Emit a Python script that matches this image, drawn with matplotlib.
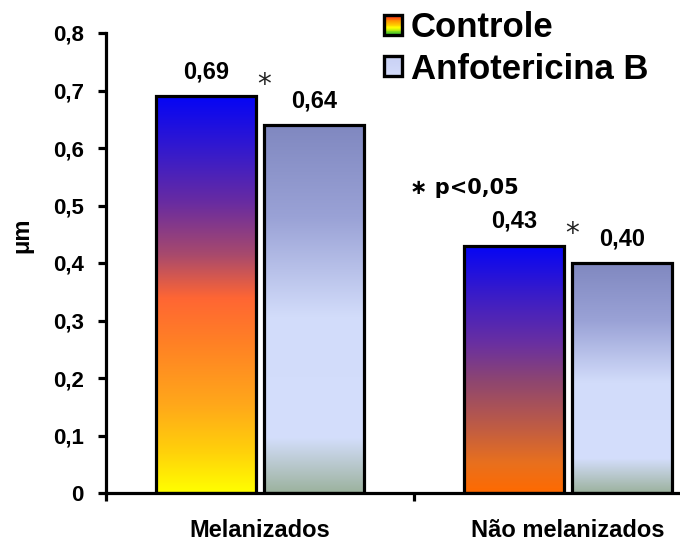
import matplotlib
matplotlib.use("Agg")
import matplotlib.pyplot as plt
import numpy as np
from matplotlib.colors import LinearSegmentedColormap
from matplotlib.patches import Rectangle
from matplotlib.legend_handler import HandlerBase

plt.rcParams['font.family'] = ['Liberation Sans', 'DejaVu Sans']
plt.rcParams['font.weight'] = 'bold'

# ---- data ----
categories = ["Melanizados", "Não melanizados"]
series_names = ["Controle", "Anfotericina B"]
controle = [0.69, 0.43]
anfotericina = [0.64, 0.40]
y_ticks = [0, 0.1, 0.2, 0.3, 0.4, 0.5, 0.6, 0.7, 0.8]
y_tick_labels = ["0", "0,1", "0,2", "0,3", "0,4", "0,5", "0,6", "0,7", "0,8"]
y_label = "μm"
sig_note = "∗ p<0,05"

# ---- gradients (top -> bottom) ----
cmap_ctrl = [
    LinearSegmentedColormap.from_list("c1", [
        (0.0, "#0505F5"), (0.15, "#3A1CC8"), (0.27, "#6A2CA0"), (0.4, "#A84A6C"),
        (0.51, "#FF6633"), (0.62, "#FF8025"), (0.78, "#FFA81A"), (0.9, "#FFD20A"),
        (1.0, "#FFFF00")]),
    LinearSegmentedColormap.from_list("c2", [
        (0.0, "#0505F5"), (0.2, "#3A1CC8"), (0.4, "#6A30A0"), (0.55, "#8E4670"),
        (0.72, "#BB5A48"), (0.88, "#E8701E"), (1.0, "#FF6A00")]),
]
cmap_anfo = LinearSegmentedColormap.from_list("a", [
    (0.0, "#8088C0"), (0.25, "#9AA2D6"), (0.52, "#D2DCFA"), (0.85, "#D4DEFC"),
    (1.0, "#9CB29E")])

fig = plt.figure(figsize=(6.8, 5.44), dpi=100)
ax = fig.add_axes([106/680, 51/544, 616/680, 460/544])

x = np.arange(len(categories))
width = 0.325
off = 0.175

bars_c = ax.bar(x - off, controle, width, facecolor='none', edgecolor='black',
                linewidth=2.3, zorder=3, label=series_names[0])
bars_a = ax.bar(x + off, anfotericina, width, facecolor='none', edgecolor='black',
                linewidth=2.3, zorder=3, label=series_names[1])

grad = np.linspace(0, 1, 256).reshape(-1, 1)
for i, b in enumerate(bars_c):
    im = ax.imshow(grad, cmap=cmap_ctrl[i], aspect='auto', origin='upper',
                   extent=[b.get_x(), b.get_x() + b.get_width(), 0, b.get_height()],
                   zorder=2, interpolation='bilinear')
    im.set_clip_path(b)
for b in bars_a:
    im = ax.imshow(grad, cmap=cmap_anfo, aspect='auto', origin='upper',
                   extent=[b.get_x(), b.get_x() + b.get_width(), 0, b.get_height()],
                   zorder=2, interpolation='bilinear')
    im.set_clip_path(b)

for xi, v in zip(x - off, controle):
    ax.text(xi, v + 0.043, f"{v:.2f}".replace('.', ','), ha='center', va='center',
            fontsize=17, weight='bold')
for xi, v in zip(x + off, anfotericina):
    ax.text(xi, v + 0.041, f"{v:.2f}".replace('.', ','), ha='center', va='center',
            fontsize=17, weight='bold')

# significance asterisks
for xi, v in zip(x, controle):
    ax.text(xi + 0.012, v + 0.02, "*", ha='center', va='center', fontsize=20,
            weight='normal', family='DejaVu Sans', color='#222222')
ax.text(0.487, 0.53, sig_note, ha='left', va='center', fontsize=15, weight='bold',
        family=['DejaVu Sans'])

ax.set_xlim(-0.5, 1.5)
ax.set_ylim(0, 0.8)
ax.set_yticks(y_ticks)
ax.set_yticklabels(y_tick_labels, fontsize=16, weight='bold')
ax.set_xticks([-0.5, 0.5, 1.5])
ax.set_xticklabels([])
ax.set_xticks(x, minor=True)
ax.set_xticklabels(categories, minor=True, fontsize=17, weight='bold')
ax.tick_params(axis='x', which='minor', length=0, pad=19)
ax.tick_params(axis='x', which='major', length=6, width=2.3, direction='out')
ax.tick_params(axis='y', length=6, width=2.3, direction='out', pad=10)
for s in ['top', 'right']:
    ax.spines[s].set_visible(False)
for s in ['left', 'bottom']:
    ax.spines[s].set_linewidth(2.3)
ax.set_ylabel(y_label, fontsize=17, weight='bold')
ax.yaxis.set_label_coords(-0.118, 0.56)


class GradHandler(HandlerBase):
    def __init__(self, cmap, n=24):
        super().__init__()
        self.cmap = cmap
        self.n = n

    def create_artists(self, legend, orig_handle, xdescent, ydescent, width, height,
                       fontsize, trans):
        arts = []
        for k in range(self.n):
            c = self.cmap(k / (self.n - 1))
            y0 = -ydescent + height * (self.n - 1 - k) / self.n
            arts.append(Rectangle((-xdescent, y0), width, height / self.n,
                                  facecolor=c, edgecolor='none', transform=trans))
        arts.append(Rectangle((-xdescent, -ydescent), width, height, facecolor='none',
                              edgecolor='black', linewidth=2.4, transform=trans))
        return arts


rainbow = LinearSegmentedColormap.from_list("rb", ["#FF2020", "#FF9900", "#FFFF00", "#30C030"])
lav = LinearSegmentedColormap.from_list("lv", ["#C8D0F4", "#D4DCFA"])
h1 = Rectangle((0, 0), 1, 1)
h2 = Rectangle((0, 0), 1, 1)
leg = ax.legend([h1, h2], series_names,
                handler_map={h1: GradHandler(rainbow), h2: GradHandler(lav)},
                loc='upper left', bbox_to_anchor=(384/680, 1 - 11/544),
                bbox_transform=fig.transFigure, frameon=False,
                prop={'size': 25, 'weight': 'bold'}, handlelength=0.52,
                handleheight=0.52, handletextpad=0.25, labelspacing=0.25,
                borderpad=0, borderaxespad=0)

fig.savefig("out.png", dpi=100)
